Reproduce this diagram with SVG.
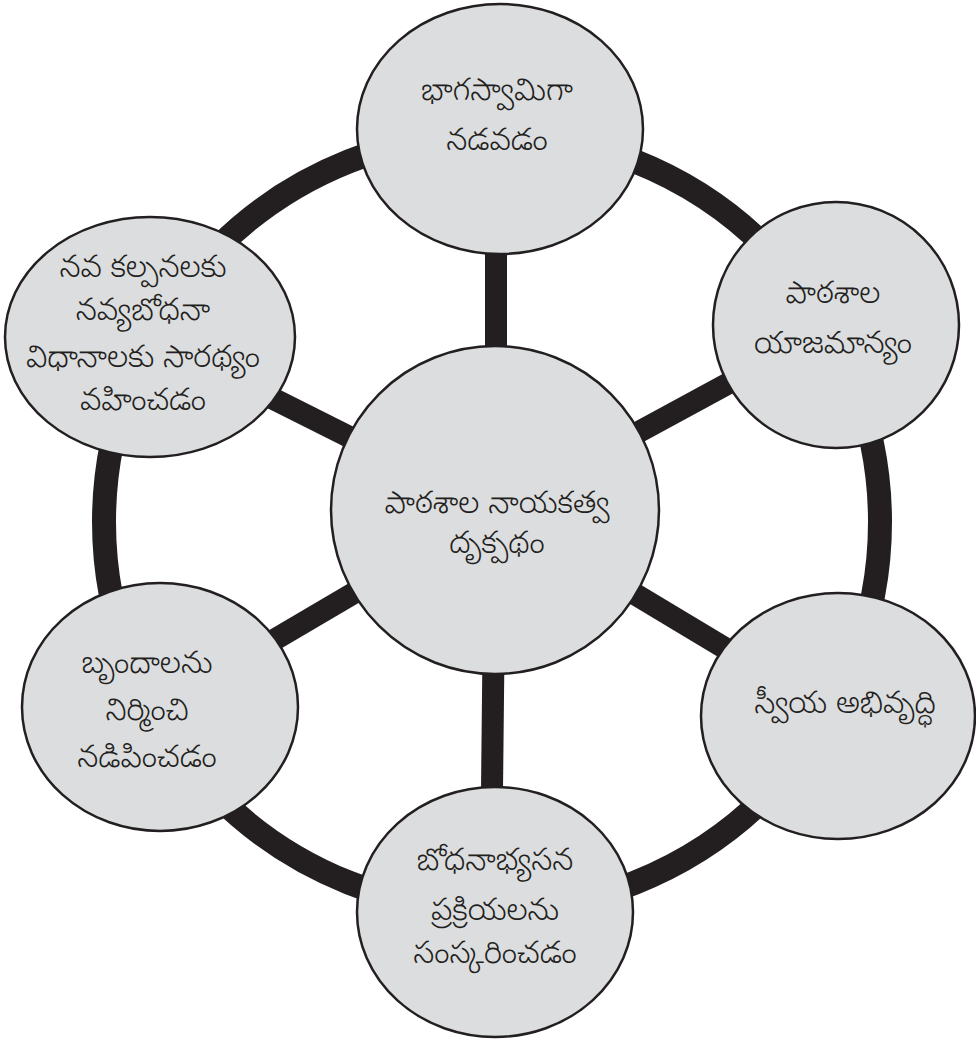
<svg xmlns="http://www.w3.org/2000/svg" width="976" height="1040" viewBox="0 0 976 1040">
<style>
.node{fill:#dcdddf;stroke:#231f20;stroke-width:2.5}
.ring{fill:none;stroke:#231f20;stroke-width:24}
.spoke{stroke:#231f20;stroke-width:22}
text{font-family:"Noto Sans Telugu","Noto Sans","DejaVu Sans",sans-serif;font-size:31px;font-weight:300;fill:#231f20;text-anchor:middle}
</style>
<rect width="976" height="1040" fill="#ffffff"/>
<g id="connectors">
<circle class="ring" cx="492" cy="522" r="388"/>
<line class="spoke" x1="496" y1="510" x2="496" y2="250"/>
<line class="spoke" x1="495" y1="510" x2="492" y2="790"/>
<line class="spoke" x1="495" y1="510" x2="150" y2="337"/>
<line class="spoke" x1="495" y1="510" x2="836" y2="325"/>
<line class="spoke" x1="495" y1="510" x2="160" y2="707"/>
<line class="spoke" x1="495" y1="510" x2="838" y2="716"/>
</g>
<g id="node-top">
<ellipse class="node" cx="500" cy="129" rx="143" ry="125"/>
<text x="497" y="100">భాగస్వామిగా</text>
<text x="497" y="150">నడవడం</text>
</g>
<g id="node-right-upper">
<ellipse class="node" cx="836" cy="325" rx="123" ry="123"/>
<text x="833" y="303">పాఠశాల</text>
<text x="833" y="353">యాజమాన్యం</text>
</g>
<g id="node-right-lower">
<ellipse class="node" cx="838" cy="716" rx="137" ry="123"/>
<text x="845" y="713">స్వీయ అభివృద్ధి</text>
</g>
<g id="node-bottom">
<ellipse class="node" cx="495" cy="912" rx="138" ry="125"/>
<text x="495" y="870">బోధనాభ్యసన</text>
<text x="495" y="920">ప్రక్రియలను</text>
<text x="495" y="963">సంస్కరించడం</text>
</g>
<g id="node-left-lower">
<ellipse class="node" cx="160" cy="707" rx="138" ry="124"/>
<text x="147" y="673">బృందాలను</text>
<text x="147" y="720">నిర్మించి</text>
<text x="147" y="767">నడిపించడం</text>
</g>
<g id="node-left-upper">
<ellipse class="node" cx="150" cy="337" rx="145" ry="120"/>
<text x="143" y="277">నవ కల్పనలకు</text>
<text x="143" y="320">నవ్యబోధనా</text>
<text x="143" y="367">విధానాలకు సారథ్యం</text>
<text x="143" y="410">వహించడం</text>
</g>
<g id="node-center">
<circle class="node" cx="495" cy="510" r="164"/>
<text x="497" y="513">పాఠశాల నాయకత్వ</text>
<text x="497" y="553">దృక్పథం</text>
</g>
</svg>
